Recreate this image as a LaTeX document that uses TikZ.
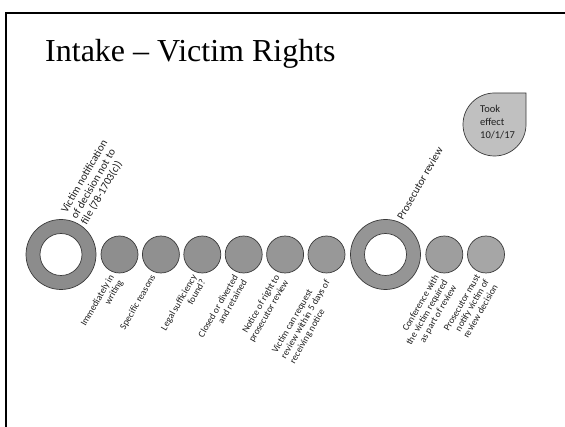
\documentclass[tikz,border=0pt]{standalone}
\usepackage{fontspec}
\setmainfont{Liberation Serif}
\newfontfamily\calfont{Carlito}
\usetikzlibrary{calc}
\definecolor{ringA}{HTML}{8C8C8C}
\definecolor{ringB}{HTML}{959595}
\definecolor{gA}{HTML}{8E8E8E}
\definecolor{gB}{HTML}{909090}
\definecolor{gC}{HTML}{929292}
\definecolor{gD}{HTML}{949494}
\definecolor{gE}{HTML}{969696}
\definecolor{gF}{HTML}{989898}
\definecolor{gG}{HTML}{9E9E9E}
\definecolor{gH}{HTML}{A6A6A6}
\definecolor{tookgray}{HTML}{C0C0C0}
\definecolor{edge}{HTML}{3A3A3A}
\begin{document}
\begin{tikzpicture}[x=1pt,y=-1pt,
  outl/.style={draw=edge, line width=0.7pt},
  bigc/.style={circle, outl, minimum size=70pt, inner sep=0pt},
  hole/.style={circle, outl, fill=white, minimum size=42pt, inner sep=0pt},
  smallc/.style={circle, outl, minimum size=37pt, inner sep=0pt},
  toplab/.style={rotate=60, anchor=west, align=left, inner sep=0pt,
    font=\calfont\fontsize{11}{11.5}\selectfont, text=black!88},
  botlab/.style={rotate=60, anchor=north east, align=right, inner sep=0pt,
    font=\calfont\fontsize{9.5}{10.2}\selectfont, text=black!88}]
\useasboundingbox (0,0) rectangle (565,427);
\fill[white] (0,0) rectangle (565,427);
% slide frame
\draw[line width=2.3pt] (6.2,427) -- (6.2,12.8) -- (565,12.8);
% title
\node[anchor=base west, inner sep=0pt, font=\fontsize{32}{38}\selectfont] (title) at (45,62) {Intake – Victim Rights};
% took effect badge
\draw[outl, fill=tookgray] (526,93) -- (526,124.5) arc[start angle=0, end angle=270, radius=31.5] -- cycle;
\node[anchor=north west, inner sep=0pt, align=left, font=\calfont\fontsize{10.5}{13}\selectfont, text=black!88] (took) at (480,105) {Took\\effect\\10/1/17};
% big donuts
\node[bigc, fill=ringA] (d1) at (61,254.5) {};
\node[hole] (h1) at (d1) {};
\node[bigc, fill=ringB] (d2) at (385.5,254.5) {};
\node[hole] (h2) at (d2) {};
% small circles
\node[smallc, fill=gA] (c1) at (119.5,254.5) {};
\node[smallc, fill=gB] (c2) at (160.9,254.5) {};
\node[smallc, fill=gC] (c3) at (202.3,254.5) {};
\node[smallc, fill=gD] (c4) at (243.7,254.5) {};
\node[smallc, fill=gE] (c5) at (285.1,254.5) {};
\node[smallc, fill=gF] (c6) at (326.5,254.5) {};
\node[smallc, fill=gG] (c7) at (444.3,254.5) {};
\node[smallc, fill=gH] (c8) at (486,254.5) {};
% top labels
\node[toplab] (t1) at ($(d1)+(13,-36.5)$) {Victim notification\\of decision not to\\file (78-1703(c))};
\node[toplab] (t2) at ($(d2)+(14,-36)$) {Prosecutor review};
% bottom labels
\node[botlab] (b1) at ($(c1)+(-11,19)$) {Immediately in\\writing};
\node[botlab] (b2) at ($(c2)+(-11,19)$) {Specific reasons};
\node[botlab] (b3) at ($(c3)+(-11,19)$) {Legal sufficiency\\found?};
\node[botlab] (b4) at ($(c4)+(-11,19)$) {Closed or diverted\\and retained};
\node[botlab] (b5) at ($(c5)+(-11,19)$) {Notice of right to\\prosecutor review};
\node[botlab, align=left] (b6) at ($(c6)+(-11,19)$) {Victim can request\\review within 5 days of\\receiving notice};
\node[botlab] (b7) at ($(c7)+(-11,19)$) {Conference with\\the victim required\\as part of review};
\node[botlab] (b8) at ($(c8)+(-11,19)$) {Prosecutor must\\notify victim of\\review decision};
\end{tikzpicture}
\end{document}
